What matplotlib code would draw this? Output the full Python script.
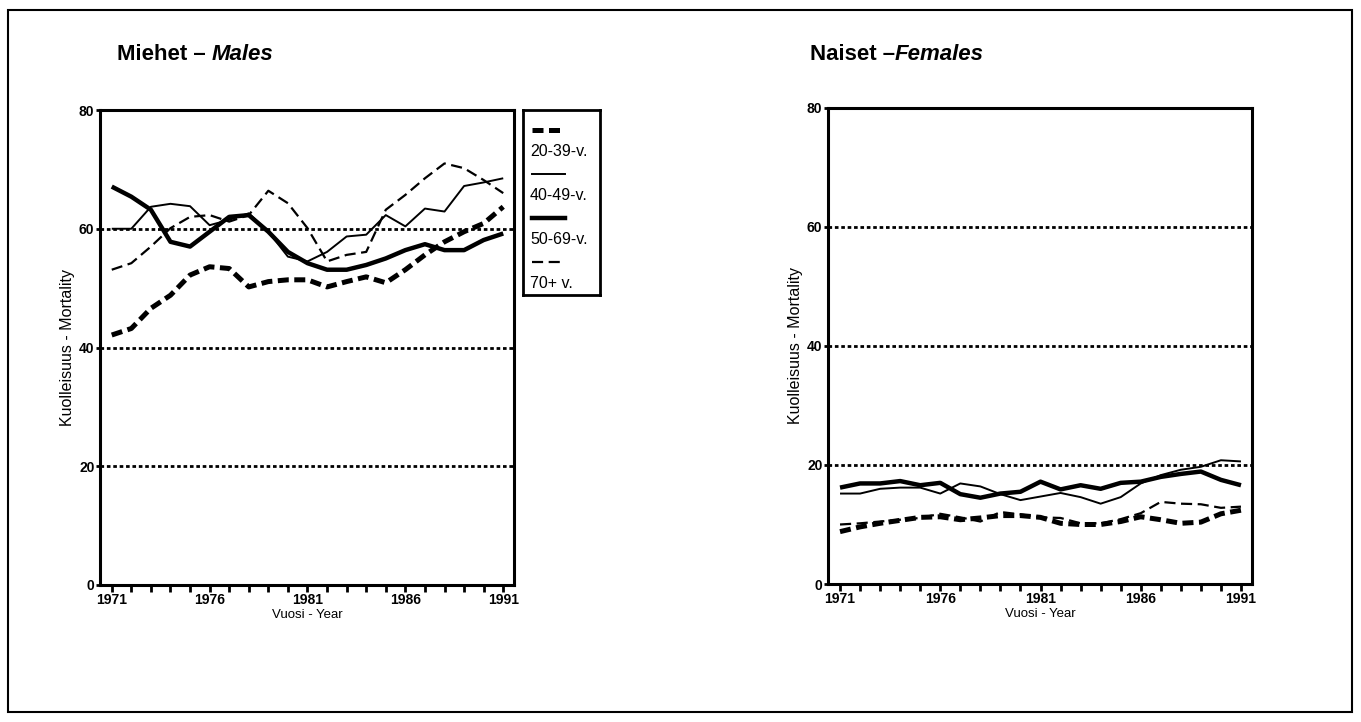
"Mortality by age group, Finland 1971-1991"

import matplotlib
matplotlib.use("Agg")
import matplotlib.pyplot as plt
from matplotlib.lines import Line2D
from matplotlib.patches import Rectangle
import numpy as np

plt.rcParams['font.family'] = ['Liberation Sans', 'DejaVu Sans']

years = np.arange(1971, 1992)
groups = ['20-39-v.', '40-49-v.', '50-69-v.', '70+ v.']

# Miehet - Males
m_20_39 = [42.1, 43.2, 46.6, 48.8, 52.2, 53.6, 53.3, 50.2, 51.1, 51.4, 51.4,
           50.2, 51.1, 51.9, 50.9, 53.1, 55.6, 57.8, 59.5, 60.9, 63.7]
m_40_49 = [60.0, 60.0, 63.7, 64.2, 63.8, 60.6, 61.5, 62.6, 59.5, 55.3, 54.5,
           56.1, 58.7, 59.0, 62.3, 60.4, 63.4, 62.9, 67.2, 67.8, 68.5]
m_50_69 = [67.1, 65.4, 63.2, 57.8, 57.0, 59.5, 62.0, 62.3, 59.5, 56.1, 54.2,
           53.1, 53.1, 53.9, 55.0, 56.4, 57.4, 56.4, 56.4, 58.1, 59.2]
m_70 = [53.1, 54.2, 57.0, 60.1, 62.0, 62.3, 61.2, 62.3, 66.4, 64.3, 60.1,
        54.5, 55.6, 56.1, 63.2, 65.7, 68.5, 71.0, 70.2, 68.2, 66.0]

# Naiset - Females
f_20_39 = [8.8, 9.6, 10.2, 10.7, 11.2, 11.3, 10.8, 11.1, 11.5, 11.5, 11.2,
           10.2, 10.0, 10.0, 10.5, 11.3, 10.8, 10.2, 10.4, 11.8, 12.4]
f_40_49 = [15.2, 15.2, 16.0, 16.2, 16.2, 15.2, 16.9, 16.4, 15.1, 14.1, 14.7,
           15.3, 14.6, 13.5, 14.6, 16.9, 18.3, 19.2, 19.7, 20.8, 20.6]
f_50_69 = [16.2, 16.9, 16.9, 17.3, 16.6, 17.0, 15.1, 14.5, 15.2, 15.5, 17.2,
           15.9, 16.6, 16.0, 17.0, 17.2, 18.0, 18.5, 18.9, 17.5, 16.6]
f_70 = [10.0, 10.2, 10.5, 10.8, 11.1, 11.8, 11.2, 10.5, 12.1, 11.7, 11.2,
        11.1, 10.2, 10.2, 10.9, 11.9, 13.8, 13.5, 13.4, 12.8, 13.0]

# line style per age group
styles = [
    dict(lw=3.6, ls=(0, (2.2, 1.1))),
    dict(lw=1.4, ls='-'),
    dict(lw=3.2, ls='-'),
    dict(lw=1.6, ls=(0, (5, 2.5))),
]

W, H = 1361, 722
fig = plt.figure(figsize=(W / 100, H / 100), dpi=100)

# outer frame
fig.patches.append(Rectangle((8 / W, 10 / H), 1344 / W, 702 / H, transform=fig.transFigure,
                             fill=False, lw=1.5, ec='black'))


def panel(rect, series, title_main, title_it, tx):
    ax = fig.add_axes(rect)
    for s, st in zip(series, styles):
        ax.plot(years, s, color='black', solid_capstyle='butt', dash_capstyle='butt', **st)
    for g in [20, 40, 60]:
        ax.axhline(g, color='black', lw=2.0, ls=(0, (1.3, 1.0)), zorder=0)
    ax.set_xlim(1970.4, 1991.55)
    ax.set_ylim(0, 80)
    ax.set_xticks(years)
    ax.set_xticklabels([str(y) if (y - 1971) % 5 == 0 else '' for y in years],
                       fontsize=10, fontweight='bold')
    ax.set_yticks([0, 20, 40, 60, 80])
    ax.set_yticklabels(['0', '20', '40', '60', '80'], fontsize=10, fontweight='bold')
    ax.tick_params(axis='x', direction='out', length=5, width=2, pad=1)
    ax.tick_params(axis='y', direction='out', length=3, width=2, pad=1)
    for sp in ax.spines.values():
        sp.set_linewidth(2.2)
    ax.set_xlabel('Vuosi - Year', fontsize=9.5, labelpad=1)
    ax.set_ylabel('Kuolleisuus - Mortality', fontsize=11.5, labelpad=3)
    t = fig.text(tx / W, 1 - 54 / H, title_main, fontsize=16, fontweight='bold', va='center')
    fig.canvas.draw()
    bb = t.get_window_extent()
    fig.text(bb.x1 / W, 1 - 54 / H, title_it, fontsize=16, fontweight='bold',
             style='italic', va='center')
    return ax


panel([100 / W, 137 / H, 414 / W, 475 / H], [m_20_39, m_40_49, m_50_69, m_70],
      'Miehet – ', 'Males', 117)
panel([828 / W, 138 / H, 424 / W, 476 / H], [f_20_39, f_40_49, f_50_69, f_70],
      'Naiset –', 'Females', 810)

# legend box: handle above each label
lx0, ly0, lw_, lh = 523, 110, 77, 185
lax = fig.add_axes([lx0 / W, 1 - (ly0 + lh) / H, lw_ / W, lh / H])
lax.set_xlim(lx0, lx0 + lw_)
lax.set_ylim(ly0 + lh, ly0)
lax.set_xticks([])
lax.set_yticks([])
for sp in lax.spines.values():
    sp.set_linewidth(2)
for i, (g, st) in enumerate(zip(groups, styles)):
    yh = 130 + i * 44
    lax.add_line(Line2D([532, 565], [yh, yh], color='black', **st))
    lax.text(530, yh + 22, g, fontsize=11.5, va='center', ha='left')

fig.savefig('out.png', dpi=100)
